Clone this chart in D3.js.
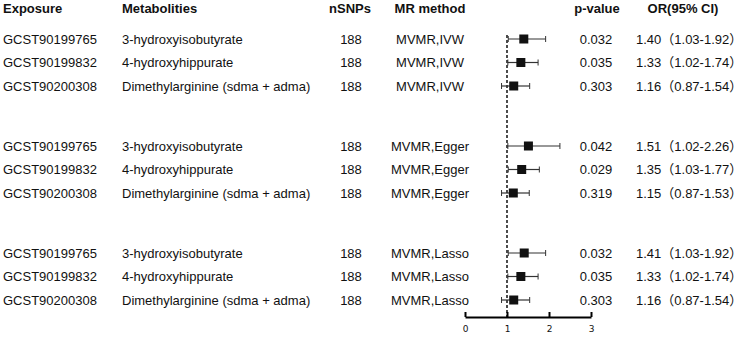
<!DOCTYPE html>
<html>
<head>
<meta charset="utf-8">
<script src="https://cdn.jsdelivr.net/npm/d3@7"></script>
<style>
  body { margin: 0; background: #fff; }
  text { font-family: "Liberation Sans", Arial, "Noto Sans CJK SC", sans-serif; fill: #111; }
  .head { font-weight: bold; font-size: 13px; }
  .cell { font-size: 13px; }
  .tick text { font-size: 9px; font-family: "DejaVu Sans", sans-serif; }
</style>
</head>
<body>
<div id="forest"></div>
<script>
// Table data
var exposures = ["GCST90199765", "GCST90199832", "GCST90200308",
                 "GCST90199765", "GCST90199832", "GCST90200308",
                 "GCST90199765", "GCST90199832", "GCST90200308"];
var metabolites = ["3-hydroxyisobutyrate", "4-hydroxyhippurate", "Dimethylarginine (sdma + adma)",
                   "3-hydroxyisobutyrate", "4-hydroxyhippurate", "Dimethylarginine (sdma + adma)",
                   "3-hydroxyisobutyrate", "4-hydroxyhippurate", "Dimethylarginine (sdma + adma)"];
var nsnps = [188, 188, 188, 188, 188, 188, 188, 188, 188];
var methods = ["MVMR,IVW", "MVMR,IVW", "MVMR,IVW",
               "MVMR,Egger", "MVMR,Egger", "MVMR,Egger",
               "MVMR,Lasso", "MVMR,Lasso", "MVMR,Lasso"];
var pvalues = ["0.032", "0.035", "0.303", "0.042", "0.029", "0.319", "0.032", "0.035", "0.303"];
var ors = [1.40, 1.33, 1.16, 1.51, 1.35, 1.15, 1.41, 1.33, 1.16];
var lower = [1.03, 1.02, 0.87, 1.02, 1.03, 0.87, 1.03, 1.02, 0.87];
var upper = [1.92, 1.74, 1.54, 2.26, 1.77, 1.53, 1.92, 1.74, 1.54];
var groups = [0, 0, 0, 1, 1, 1, 2, 2, 2];
var xTicks = [0, 1, 2, 3];

var width = 741, height = 337;

var svg = d3.select("#forest").append("svg")
    .attr("width", width)
    .attr("height", height);

// Scales
var xScale = d3.scaleLinear()
    .domain([0, 3])
    .range([465, 591]);

var yGroup = d3.scaleLinear()
    .domain([0, 2])
    .range([39, 253]);

var rowStep = 23.5;

var rows = exposures.map(function(d, i) {
  return {
    exposure: d,
    metab: metabolites[i],
    nsnp: nsnps[i],
    method: methods[i],
    p: pvalues[i],
    or: ors[i],
    lo: lower[i],
    hi: upper[i],
    y: yGroup(groups[i]) + (i % 3) * rowStep
  };
});

// Header
var headers = [
  {t: "Exposure", x: 3, a: "start"},
  {t: "Metabolities", x: 122, a: "start"},
  {t: "nSNPs", x: 350, a: "middle"},
  {t: "MR method", x: 430, a: "middle"},
  {t: "p-value", x: 597, a: "middle"},
  {t: "OR(95% CI)", x: 683, a: "middle"}
];

svg.selectAll(".head")
    .data(headers)
  .enter().append("text")
    .attr("class", "head")
    .attr("x", function(d) { return d.x; })
    .attr("y", 8)
    .attr("dy", "0.35em")
    .style("text-anchor", function(d) { return d.a; })
    .text(function(d) { return d.t; });

// Table cells
var cols = [
  {f: function(d) { return d.exposure; }, x: 3, a: "start"},
  {f: function(d) { return d.metab; }, x: 122, a: "start"},
  {f: function(d) { return d.nsnp; }, x: 351, a: "middle"},
  {f: function(d) { return d.method; }, x: 430, a: "middle"},
  {f: function(d) { return d.p; }, x: 596, a: "middle"},
  {f: function(d) { return d.or.toFixed(2) + "（" + d.lo.toFixed(2) + "-" + d.hi.toFixed(2) + "）"; }, x: 636, a: "start"}
];

cols.forEach(function(c) {
  svg.append("g").selectAll("text")
      .data(rows)
    .enter().append("text")
      .attr("class", "cell")
      .attr("x", c.x)
      .attr("y", function(d) { return d.y; })
      .attr("dy", "0.35em")
      .style("text-anchor", c.a)
      .text(c.f);
});

// Axis
var axisY = 317;
var axis = svg.append("g")
    .attr("transform", "translate(0," + axisY + ")")
    .call(d3.axisBottom(xScale).tickValues(xTicks).tickFormat(d3.format("d"))
      .tickSizeInner(-5).tickSizeOuter(0).tickPadding(9));
axis.select(".domain").attr("stroke", "#000").attr("stroke-width", 2);
axis.selectAll(".tick line").attr("stroke", "#000").attr("stroke-width", 2);

// Reference line at OR = 1
svg.append("line")
    .attr("x1", xScale(1)).attr("x2", xScale(1))
    .attr("y1", 35).attr("y2", axisY)
    .attr("stroke", "#000")
    .attr("stroke-width", 1.4)
    .attr("stroke-dasharray", "3,2");

// Confidence intervals
var ci = svg.append("g").selectAll("g")
    .data(rows)
  .enter().append("g");

ci.append("line")
    .attr("x1", function(d) { return xScale(d.lo); })
    .attr("x2", function(d) { return xScale(d.hi); })
    .attr("y1", function(d) { return d.y; })
    .attr("y2", function(d) { return d.y; })
    .attr("stroke", "#333")
    .attr("stroke-width", 1.2);

ci.append("line")
    .attr("x1", function(d) { return xScale(d.lo); })
    .attr("x2", function(d) { return xScale(d.lo); })
    .attr("y1", function(d) { return d.y - 3; })
    .attr("y2", function(d) { return d.y + 3; })
    .attr("stroke", "#333");

ci.append("line")
    .attr("x1", function(d) { return xScale(d.hi); })
    .attr("x2", function(d) { return xScale(d.hi); })
    .attr("y1", function(d) { return d.y - 3; })
    .attr("y2", function(d) { return d.y + 3; })
    .attr("stroke", "#333");

ci.append("rect")
    .attr("x", function(d) { return xScale(d.or) - 4.5; })
    .attr("y", function(d) { return d.y - 4.5; })
    .attr("width", 9)
    .attr("height", 9)
    .attr("fill", "#111");
</script>
</body>
</html>
